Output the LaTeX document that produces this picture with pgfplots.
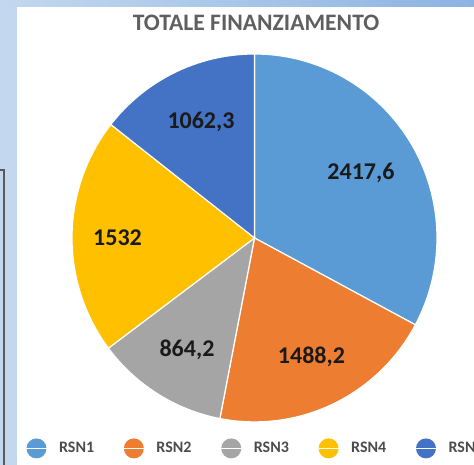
\documentclass[border=0pt]{standalone}
\usepackage{fontspec}
\setmainfont{Carlito}
\usepackage{pgfplots}
\usepackage{pgfplotstable}
\pgfplotsset{compat=1.18}
\definecolor{rsnA}{HTML}{5B9BD5}
\definecolor{rsnB}{HTML}{ED7D31}
\definecolor{rsnC}{HTML}{A5A5A5}
\definecolor{rsnD}{HTML}{FFC000}
\definecolor{rsnE}{HTML}{4472C4}
\definecolor{bgL}{HTML}{C3D8EF}
\definecolor{bgR}{HTML}{8DB3E2}
\definecolor{titlegray}{HTML}{5F5F5F}
\definecolor{labtxt}{HTML}{1A1A1A}

\pgfplotstableread{
name value
RSN1 2417.6
RSN2 1488.2
RSN3 864.2
RSN4 1532
RSN5 1062.3
}\pietable

\begin{document}
\begin{tikzpicture}
\pgfplotstablegetelem{0}{value}\of\pietable \let\vA\pgfplotsretval
\pgfplotstablegetelem{1}{value}\of\pietable \let\vB\pgfplotsretval
\pgfplotstablegetelem{2}{value}\of\pietable \let\vC\pgfplotsretval
\pgfplotstablegetelem{3}{value}\of\pietable \let\vD\pgfplotsretval
\pgfplotstablegetelem{4}{value}\of\pietable \let\vE\pgfplotsretval
\pgfmathsetmacro\tot{\vA+\vB+\vC+\vD+\vE}
\pgfmathsetmacro\eA{360*(\vA/\tot)}
\pgfmathsetmacro\eB{\eA+360*(\vB/\tot)}
\pgfmathsetmacro\eC{\eB+360*(\vC/\tot)}
\pgfmathsetmacro\eD{\eC+360*(\vD/\tot)}
\def\cx{254.5}\def\cy{238}\def\rx{182.5}\def\ry{184}
\begin{axis}[
  width=237pt, height=232.5pt, scale only axis,
  xmin=0, xmax=474, ymin=0, ymax=465, y dir=reverse,
  hide axis, clip=false,
  legend image code/.code={\fill[#1, draw=none] (0pt,0pt) circle (5pt);\path (-5pt,0pt) -- (9pt,0pt);},
  legend columns=-1,
  legend style={at={(axis cs:19.5,448.5)}, anchor=west, draw=none, fill=none,
    font=\fontsize{8}{9.5}\selectfont\bfseries, text=black!70,
    /tikz/every even column/.append style={column sep=0pt}},
]
\coordinate (bbA) at (axis cs:0,465);
\coordinate (bbB) at (axis cs:474,0);
% background frame
\fill[left color=bgL, right color=bgR] (axis cs:0,0) rectangle (axis cs:474,7);
\fill[bgL] (axis cs:0,7) rectangle (axis cs:17,465);
\draw[black!65, line width=0.8pt] (axis cs:0,170) -- (axis cs:4,170) -- (axis cs:4,465);
% slices
\addplot[fill=rsnA, draw=white, line width=0.6pt, domain=0:\eA, samples=90, variable=\t]
  ({\cx+\rx*sin(\t)},{\cy-\ry*cos(\t)}) -- (axis cs:\cx,\cy) -- cycle;
\addlegendentry{\makebox[30.1pt][l]{RSN1}}
\addplot[fill=rsnB, draw=white, line width=0.6pt, domain=\eA:\eB, samples=60, variable=\t]
  ({\cx+\rx*sin(\t)},{\cy-\ry*cos(\t)}) -- (axis cs:\cx,\cy) -- cycle;
\addlegendentry{\makebox[30.1pt][l]{RSN2}}
\addplot[fill=rsnC, draw=white, line width=0.6pt, domain=\eB:\eC, samples=40, variable=\t]
  ({\cx+\rx*sin(\t)},{\cy-\ry*cos(\t)}) -- (axis cs:\cx,\cy) -- cycle;
\addlegendentry{\makebox[30.1pt][l]{RSN3}}
\addplot[fill=rsnD, draw=white, line width=0.6pt, domain=\eC:\eD, samples=60, variable=\t]
  ({\cx+\rx*sin(\t)},{\cy-\ry*cos(\t)}) -- (axis cs:\cx,\cy) -- cycle;
\addlegendentry{\makebox[30.1pt][l]{RSN4}}
\addplot[fill=rsnE, draw=white, line width=0.6pt, domain=\eD:360, samples=50, variable=\t]
  ({\cx+\rx*sin(\t)},{\cy-\ry*cos(\t)}) -- (axis cs:\cx,\cy) -- cycle;
\addlegendentry{\makebox[30.1pt][l]{RSN5}}
% title
\node[text=titlegray, font=\fontsize{11.8}{14}\selectfont\bfseries] at (axis cs:256,22.5) {TOTALE FINANZIAMENTO};
% data labels
\begin{scope}[every node/.style={text=labtxt, font=\fontsize{12}{14}\selectfont\bfseries}]
\node at (axis cs:361,173) {2417,6};
\node at (axis cs:311.5,357) {1488,2};
\node at (axis cs:187,350) {864,2};
\node at (axis cs:117.5,238) {1532};
\node at (axis cs:201,122) {1062,3};
\end{scope}
\end{axis}
\pgfresetboundingbox
\path (bbA) rectangle (bbB);
\end{tikzpicture}
\end{document}
